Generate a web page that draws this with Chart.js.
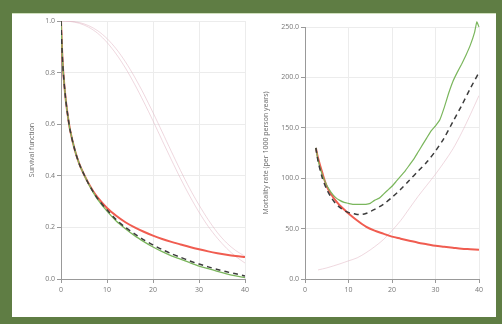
<!DOCTYPE html>
<html>
<head>
<meta charset="utf-8">
<script src="https://cdn.jsdelivr.net/npm/chart.js@4"></script>
<style>
  html, body { margin: 0; padding: 0; }
  body { width: 502px; height: 324px; background: #5f7d44; position: relative; overflow: hidden; }
  #panel { position: absolute; left: 12px; top: 13px; width: 484px; height: 303px; background: #fff; border-top: 1px solid #cfe0bd; }
  canvas { position: absolute; }
</style>
</head>
<body>
<div id="panel"></div>
<canvas id="survival" style="left:26px;top:14px;width:228px;height:300px"></canvas>
<canvas id="mortality" style="left:260px;top:14px;width:228px;height:300px"></canvas>
<script>
// left panel: survival function
const survTime = [0, 0.25, 0.5, 1, 1.5, 2, 3, 4, 5, 6, 7, 8, 10, 12, 14, 16, 18, 20, 22, 24, 26, 28, 30, 32, 34, 36, 38, 40];
const survRed = [1.0, 0.88, 0.80, 0.70, 0.63, 0.575, 0.50, 0.445, 0.405, 0.37, 0.34, 0.315, 0.275, 0.245, 0.22, 0.20, 0.183, 0.168, 0.155, 0.144, 0.134, 0.124, 0.115, 0.107, 0.100, 0.094, 0.089, 0.085];
const survGreen = [1.0, 0.88, 0.80, 0.70, 0.63, 0.575, 0.50, 0.445, 0.405, 0.368, 0.336, 0.308, 0.263, 0.225, 0.195, 0.168, 0.145, 0.124, 0.106, 0.090, 0.077, 0.063, 0.050, 0.040, 0.030, 0.020, 0.012, 0.005];
const survDash = [1.0, 0.88, 0.80, 0.70, 0.63, 0.575, 0.50, 0.445, 0.405, 0.369, 0.338, 0.311, 0.268, 0.230, 0.200, 0.175, 0.152, 0.132, 0.114, 0.098, 0.084, 0.070, 0.058, 0.047, 0.037, 0.028, 0.020, 0.012];
const survPinkTime = [0, 2, 4, 6, 8, 10, 12, 14, 16, 18, 20, 22, 24, 26, 28, 30, 32, 34, 36, 38, 40];
const survPinkA = [1.0, 0.998, 0.991, 0.976, 0.952, 0.917, 0.872, 0.818, 0.755, 0.686, 0.613, 0.537, 0.462, 0.389, 0.321, 0.259, 0.204, 0.158, 0.119, 0.087, 0.062];
const survPinkB = [1.0, 0.999, 0.994, 0.982, 0.962, 0.932, 0.892, 0.842, 0.783, 0.717, 0.645, 0.570, 0.494, 0.420, 0.350, 0.287, 0.230, 0.180, 0.140, 0.110, 0.088];
const survTicks = [0, 0.2, 0.4, 0.6, 0.8, 1.0];

// right panel: mortality rate
const mortRedTime = [2.5, 3, 4, 5, 6, 7, 8, 9, 10, 12, 14, 16, 18, 20, 22, 24, 26, 28, 30, 32, 34, 36, 38, 40];
const mortRed = [130, 120, 105, 92, 84, 78, 73, 69, 65, 58, 52, 48, 45, 42, 40, 38, 36, 34.5, 33, 32, 31, 30, 29.5, 29];
const mortGreenTime = [2.5, 3, 4, 5, 6, 7, 8, 9, 10, 11, 12, 13, 14, 15, 16, 17, 18, 19, 20, 21, 22, 23, 24, 25, 26, 27, 28, 29, 30, 31, 32, 33, 34, 35, 36, 37, 38, 39, 39.5, 40];
const mortGreen = [130, 118, 103, 93, 86, 81, 78, 76, 75, 74, 74, 74, 74, 75, 78, 80, 84, 88, 92, 97, 102, 107, 113, 119, 126, 133, 140, 147, 152, 158, 170, 184, 196, 205, 213, 222, 232, 245, 255, 250];
const mortDashTime = [2.5, 3, 4, 5, 6, 7, 8, 9, 10, 11, 12, 13, 14, 15, 16, 18, 20, 22, 24, 26, 28, 30, 32, 34, 36, 38, 40];
const mortDash = [130, 117, 100, 89, 81, 75, 71, 68, 66, 65, 64, 64, 65, 67, 69, 74, 81, 89, 98, 107, 116, 127, 140, 156, 172, 189, 205];
const mortPinkTime = [3, 5, 8, 10, 12, 14, 16, 18, 20, 22, 24, 26, 28, 30, 32, 34, 36, 38, 40];
const mortPink = [9, 11, 15, 18, 21, 26, 32, 39, 48, 58, 70, 82, 93, 104, 116, 129, 145, 163, 182];
const mortTicks = [0, 50, 100, 150, 200, 250];

const xTicks = [0, 10, 20, 30, 40];

const pts = (xs, ys) => xs.map((x, i) => ({ x: x, y: ys[i] }));

const RED = 'rgb(240, 92, 80)';
const GREEN = 'rgb(122, 182, 92)';
const DASH = 'rgb(60, 60, 60)';
const PINK = 'rgba(222, 176, 190, 0.55)';

const tickFont = { family: 'Open Sans', size: 7 };

function line(data, color, width, extra) {
  return Object.assign({
    data: data,
    borderColor: color,
    borderWidth: width,
    pointRadius: 0,
    tension: 0.3,
    fill: false
  }, extra || {});
}

function makeOptions(yTicks, yTitle, yWidth, padTop) {
  return {
    responsive: false,
    animation: false,
    layout: { padding: { top: padTop, right: 9, left: 0, bottom: 0 } },
    plugins: { legend: { display: false }, tooltip: { enabled: false } },
    scales: {
      x: {
        type: 'linear',
        min: 0,
        max: 40,
        afterBuildTicks: axis => { axis.ticks = xTicks.map(v => ({ value: v })); },
        afterFit: axis => { axis.height = 35; },
        ticks: { font: tickFont, color: '#777', padding: 3, maxRotation: 0 },
        grid: { color: '#ececec', tickLength: 4, tickColor: '#999' },
        border: { color: '#999', width: 1 }
      },
      y: {
        min: yTicks[0],
        max: yTicks[yTicks.length - 1],
        afterBuildTicks: axis => { axis.ticks = yTicks.map(v => ({ value: v })); },
        afterFit: axis => { axis.width = yWidth; },
        ticks: { font: tickFont, color: '#777', padding: 2, callback: v => Number(v).toFixed(1) },
        grid: { color: '#ececec', tickLength: 4, tickColor: '#999' },
        border: { color: '#999', width: 1 },
        title: { display: true, text: yTitle, font: { family: 'Open Sans', size: 7 }, color: '#666', padding: 2 }
      }
    }
  };
}

new Chart(document.getElementById('survival'), {
  type: 'line',
  data: {
    datasets: [
      line(pts(survTime, survDash), DASH, 1.5, { borderDash: [5, 4] }),
      line(pts(survTime, survGreen), GREEN, 1.3),
      line(pts(survTime, survRed), RED, 2),
      line(pts(survPinkTime, survPinkA), PINK, 0.9),
      line(pts(survPinkTime, survPinkB), PINK, 0.9)
    ]
  },
  options: makeOptions(survTicks, 'Survival function', 35, 7)
});

new Chart(document.getElementById('mortality'), {
  type: 'line',
  data: {
    datasets: [
      line(pts(mortDashTime, mortDash), DASH, 1.5, { borderDash: [5, 4] }),
      line(pts(mortGreenTime, mortGreen), GREEN, 1.2, { clip: false, tension: 0.1 }),
      line(pts(mortRedTime, mortRed), RED, 2),
      line(pts(mortPinkTime, mortPink), PINK, 0.9)
    ]
  },
  options: makeOptions(mortTicks, 'Mortality rate (per 1000 person years)', 45, 13)
});
</script>
</body>
</html>
